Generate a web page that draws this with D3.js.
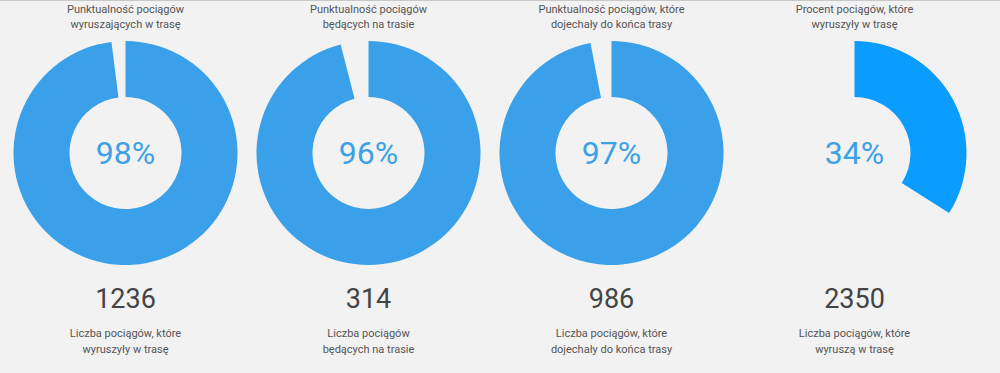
<!DOCTYPE html>
<html>
<head>
<meta charset="utf-8">
<script src="https://cdn.jsdelivr.net/npm/d3@7"></script>
<style>
  html, body { margin: 0; padding: 0; background: #f2f2f2; overflow: hidden; }
  body { border-top: 1px solid #c8c8c8; box-sizing: border-box; }
  text { font-family: Roboto, "Noto Sans", sans-serif; }
</style>
</head>
<body>
<div id="chart"></div>
<script>
// Four gauges: share (%) drawn as an arc from 12 o'clock, clockwise.
var titles = [
  ["Punktualność pociągów", "wyruszających w trasę"],
  ["Punktualność pociągów", "będących na trasie"],
  ["Punktualność pociągów, które", "dojechały do końca trasy"],
  ["Procent pociągów, które", "wyruszyły w trasę"]
];
var percents = [98, 96, 97, 34];
var counts = [1236, 314, 986, 2350];
var countLabels = [
  ["Liczba pociągów, które", "wyruszyły w trasę"],
  ["Liczba pociągów", "będących na trasie"],
  ["Liczba pociągów, które", "dojechały do końca trasy"],
  ["Liczba pociągów, które", "wyruszą w trasę"]
];
var colors = ["#3aa0e9", "#3aa0e9", "#3aa0e9", "#0a9cff"];

(function() {
  var width = 1000, height = 372;
  var outerR = 112, innerR = 56, cy = 152;

  var svg = d3.select("#chart")
    .append("svg")
    .attr("width", width)
    .attr("height", height);

  var xScale = d3.scaleBand()
    .domain(d3.range(percents.length))
    .range([4, 976]);

  var angleScale = d3.scaleLinear().domain([0, 100]).range([0, 2 * Math.PI]);

  var arc = d3.arc()
    .innerRadius(innerR)
    .outerRadius(outerR)
    .startAngle(0)
    .endAngle(function(d) { return angleScale(d); });

  var cols = svg.selectAll(".gauge")
    .data(percents)
    .enter().append("g")
    .attr("class", "gauge")
    .attr("transform", function(d, i) {
      return "translate(" + (xScale(i) + xScale.bandwidth() / 2) + ",0)";
    });

  cols.append("path")
    .attr("transform", "translate(0," + cy + ")")
    .attr("d", function(d) { return arc(d); })
    .attr("fill", function(d, i) { return colors[i]; });

  cols.append("text")
    .attr("y", cy + 11)
    .attr("text-anchor", "middle")
    .attr("font-size", 32)
    .attr("fill", "#3da1e6")
    .text(function(d) { return d + "%"; });

  cols.each(function(d, i) {
    var g = d3.select(this);
    titles[i].forEach(function(line, j) {
      g.append("text")
        .attr("y", 12 + j * 15)
        .attr("text-anchor", "middle")
        .attr("font-size", 11)
        .attr("fill", "#555")
        .text(line);
    });
    countLabels[i].forEach(function(line, j) {
      g.append("text")
        .attr("y", 336 + j * 16)
        .attr("text-anchor", "middle")
        .attr("font-size", 11)
        .attr("fill", "#555")
        .text(line);
    });
  });

  cols.append("text")
    .attr("y", 307)
    .attr("text-anchor", "middle")
    .attr("font-size", 27)
    .attr("fill", "#444")
    .text(function(d, i) { return counts[i]; });
})();
</script>
</body>
</html>
